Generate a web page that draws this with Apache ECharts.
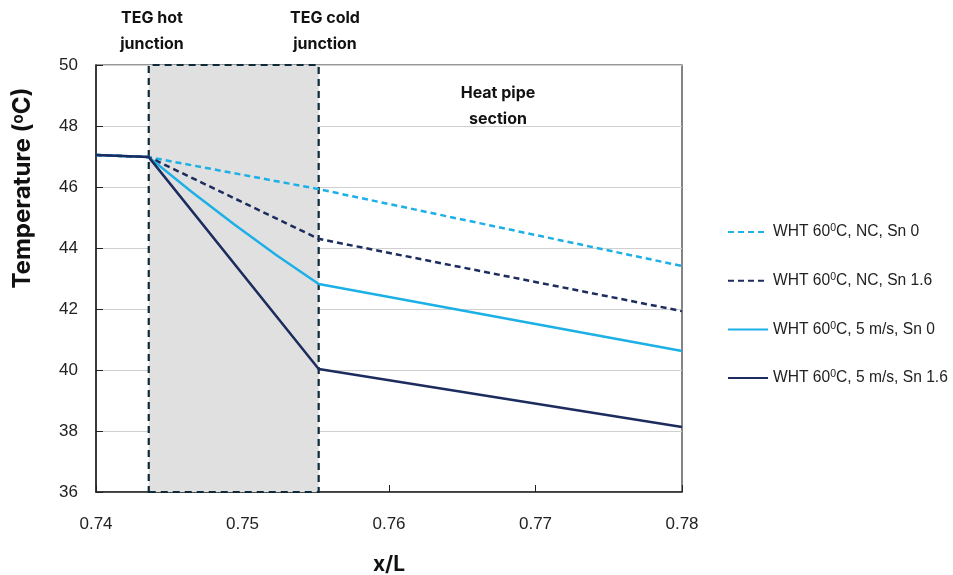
<!DOCTYPE html>
<html>
<head>
<meta charset="utf-8">
<style>
  html, body { margin: 0; padding: 0; background: #fff; }
  #chart { width: 953px; height: 575px; }
</style>
</head>
<body>
<div id="chart"></div>
<script src="https://cdn.jsdelivr.net/npm/echarts@6/dist/echarts.min.js"></script>
<script>
    // data
    var xTicks = [0.74, 0.75, 0.76, 0.77, 0.78];
    var tegZone = [0.7436, 0.7552];   // hot junction -> cold junction

    var seriesNames = [
        'WHT 60{sup|0}C, NC, Sn 0',
        'WHT 60{sup|0}C, NC, Sn 1.6',
        'WHT 60{sup|0}C, 5 m/s, Sn 0',
        'WHT 60{sup|0}C, 5 m/s, Sn 1.6'
    ];
    var nc_sn0   = [[0.74, 47.05], [0.7436, 46.98], [0.7552, 45.93], [0.78, 43.41]];
    var nc_sn16  = [[0.74, 47.05], [0.7436, 46.98], [0.7552, 44.30], [0.78, 41.93]];
    var ws5_sn0  = [[0.74, 47.05], [0.7436, 46.98], [0.7465, 45.85], [0.7494, 44.79], [0.7523, 43.77], [0.7552, 42.82], [0.78, 40.62]];
    var ws5_sn16 = [[0.74, 47.05], [0.7436, 46.98], [0.7552, 40.03], [0.78, 38.13]];

    var lightBlue = '#1cb0e6';
    var navy = '#1d2c5e';
    var sans = '"Liberation Sans", Arial, sans-serif';
    var boldFont = 'Inter, "Noto Sans", sans-serif';

    var chart = echarts.init(document.getElementById('chart'));

    function line(name, data, color, dashed) {
        return {
            name: name,
            type: 'line',
            data: data,
            symbol: 'none',
            smooth: false,
            lineStyle: { color: color, width: 2.5, type: dashed ? [6, 4] : 'solid' },
            itemStyle: { color: color },
            z: 3
        };
    }

    var series = [
        line(seriesNames[0], nc_sn0, lightBlue, true),
        line(seriesNames[1], nc_sn16, navy, true),
        line(seriesNames[2], ws5_sn0, lightBlue, false),
        line(seriesNames[3], ws5_sn16, navy, false)
    ];
    // gray TEG zone
    series[0].markArea = {
        silent: true,
        itemStyle: {
            color: '#e0e0e0',
            borderColor: '#0e2a38',
            borderWidth: 2.2,
            borderType: [7, 5]
        },
        data: [[{ xAxis: tegZone[0], yAxis: 36 }, { xAxis: tegZone[1], yAxis: 50 }]]
    };

    var note = { fontFamily: boldFont, fontWeight: 'bold', fontSize: 16, fill: '#111', textAlign: 'center', lineHeight: 26 };

    var option = {
        animation: false,
        backgroundColor: '#fff',
        grid: {
            left: 96, right: 271, top: 65, bottom: 83,
            containLabel: false, outerBoundsMode: 'none',
            show: true, borderColor: '#333', borderWidth: 1.2, backgroundColor: 'transparent'
        },
        xAxis: {
            type: 'value',
            min: 0.74, max: 0.78, interval: 0.01,
            name: 'x/L',
            nameLocation: 'middle',
            nameGap: 62,
            nameTextStyle: { fontFamily: boldFont, fontWeight: 'bold', fontSize: 21, color: '#111' },
            axisLine: { lineStyle: { color: '#222', width: 1.5 } },
            axisTick: { inside: true, length: 7, lineStyle: { color: '#222' } },
            splitLine: { show: false },
            axisLabel: {
                margin: 24,
                fontFamily: sans, fontSize: 17, color: '#222',
                formatter: function (v) { return v.toFixed(2); }
            }
        },
        yAxis: {
            type: 'value',
            min: 36, max: 50, interval: 2,
            axisLine: { show: true, lineStyle: { color: '#222', width: 1.5 } },
            axisTick: { show: true, inside: true, length: 7, lineStyle: { color: '#222' } },
            splitLine: { lineStyle: { color: '#d0d0d0', width: 1.2 } },
            axisLabel: { margin: 18, fontFamily: sans, fontSize: 17, color: '#222' }
        },
        legend: {
            orient: 'vertical',
            left: 722,
            top: 218,
            itemWidth: 40,
            itemHeight: 14,
            itemGap: 30.7,
            itemStyle: { color: 'rgba(0,0,0,0)', opacity: 0, borderWidth: 0 },
            textStyle: {
                fontFamily: sans, fontSize: 15.6, color: '#222', lineHeight: 18,
                rich: { sup: { fontSize: 10.5, verticalAlign: 'top', fontFamily: sans, color: '#222', lineHeight: 10 } }
            },
            data: seriesNames
        },
        graphic: [
            { type: 'text', style: Object.assign({ text: 'TEG hot\njunction', x: 152, y: 5 }, note) },
            { type: 'text', style: Object.assign({ text: 'TEG cold\njunction', x: 325, y: 5 }, note) },
            { type: 'text', style: Object.assign({ text: 'Heat pipe\nsection', x: 498, y: 80, lineHeight: 24 }, note) },
            {
                type: 'text',
                x: 23, y: 188,
                rotation: Math.PI / 2,
                style: {
                    text: 'Temperature ({sup|o}C)',
                    fontFamily: boldFont, fontWeight: 'bold', fontSize: 24, fill: '#111',
                    textAlign: 'center', textVerticalAlign: 'middle',
                    rich: { sup: { fontSize: 15, fontWeight: 'bold', fontFamily: boldFont, verticalAlign: 'top', fill: '#111' } }
                }
            }
        ],
        series: series
    };

    chart.setOption(option);
</script>
</body>
</html>
